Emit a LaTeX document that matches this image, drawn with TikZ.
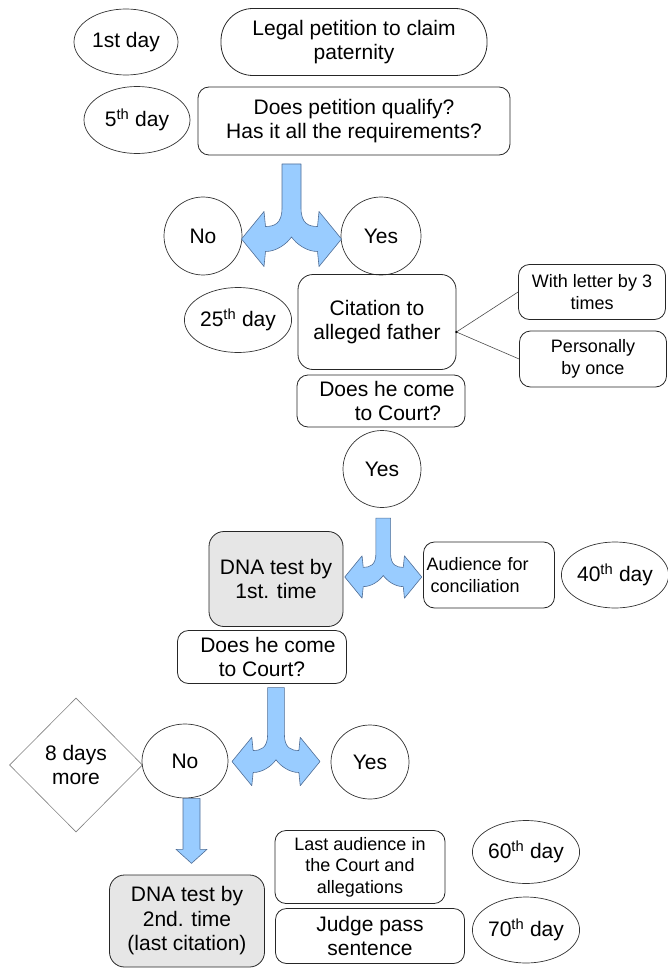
\documentclass[tikz,border=0pt]{standalone}
\usepackage{fontspec}
\setmainfont{Liberation Sans}
\usetikzlibrary{shapes.geometric,calc}

\definecolor{forkblue}{RGB}{153,204,255}
\definecolor{forkedge}{RGB}{80,110,150}
\definecolor{dnagrey}{RGB}{230,230,230}

\newcommand{\bigtext}{\fontsize{21}{24.5}\selectfont}
\newcommand{\smalltext}{\fontsize{18}{21.5}\selectfont}

% blue fork arrow: centre, half span, stem length (in half spans)
\newcommand{\forkarrow}[3]{%
\begin{scope}[shift={#1}, scale=#2]
\filldraw[fork] (-0.19,-#3) -- (0.19,-#3) -- (0.19,-0.62)
  .. controls (0.19,-0.3) and (0.35,-0.25) .. (0.52,-0.25)
  -- (0.55,-0.55) -- (1,0) -- (0.55,0.55) -- (0.52,0.25)
  .. controls (0.3,0.25) and (0.1,0.1) .. (0,-0.04)
  .. controls (-0.1,0.1) and (-0.3,0.25) .. (-0.52,0.25)
  -- (-0.55,0.55) -- (-1,0) -- (-0.55,-0.55) -- (-0.52,-0.25)
  .. controls (-0.35,-0.25) and (-0.19,-0.3) .. (-0.19,-0.62) -- cycle;
\end{scope}}

\begin{document}
\begin{tikzpicture}[
	x=1pt, y=-1pt,
	dayoval/.style={ ellipse, draw=black!80, line width=0.7pt, inner sep=0pt, font=\bigtext },
	answer/.style={ ellipse, draw=black!80, line width=0.7pt, inner sep=0pt, font=\bigtext },
	stepbox/.style={ rectangle, rounded corners=11, draw=black!85, line width=0.8pt, inner sep=3pt, align=center, font=\bigtext },
	sidebox/.style={ stepbox, font=\smalltext },
	dnabox/.style={ stepbox, rounded corners=15, fill=dnagrey },
	waitbox/.style={ diamond, draw=black!50, line width=0.6pt, inner sep=0pt, align=center, font=\bigtext },
	fork/.style={ fill=forkblue, draw=forkedge, line width=0.6pt, line join=round }
]
\useasboundingbox (0,0) rectangle (667,968);

% petition
\node at (126,42) (d1) [dayoval, minimum width=104, minimum height=66] {1st day};
\node at (354,42) (legal) [stepbox, rounded corners=32, minimum width=266, minimum height=67] {Legal petition to claim\\paternity};
\node at (137,120) (d5) [dayoval, minimum width=106, minimum height=67] {5\textsuperscript{th} day};
\node at (354,121) (qualify) [stepbox, minimum width=312, minimum height=68] {Does petition qualify?\\Has it all the requirements?};

\node at (203,236) (no1) [answer, minimum width=78, minimum height=78] {No};
\node at (381,236) (yes1) [answer, minimum width=80, minimum height=78] {Yes};
\forkarrow{($(no1.east)!.5!(yes1.west)+(0,3)$)}{50}{1.5}

% citation
\node at (238,320) (d25) [dayoval, minimum width=103, minimum height=65] {25\textsuperscript{th} day};
\node at (377,322) (cit) [stepbox, rounded corners=15, minimum width=158, minimum height=95] {Citation to\\alleged father};
\node at (592,292) (letter) [sidebox, minimum width=147, minimum height=55] {With letter by 3\\times};
\node at (593,359) (pers) [sidebox, minimum width=147, minimum height=56] {Personally\\by once};
\coordinate (knot) at ([yshift=-10pt]cit.east);
\draw[black!70, line width=0.6pt] (knot) -- (letter.west);
\draw[black!70, line width=0.6pt] (knot) -- (pers.west);
\fill (knot) circle (1.3);
\node at (381,401) (come1) [stepbox, minimum width=168, minimum height=52] {\hspace*{12pt}Does he come\\\hspace*{34pt}to Court?};
\node at (382,469) (yes2) [answer, minimum width=78, minimum height=77] {Yes};

% first DNA test
\node at (276,579) (dna1) [dnabox, minimum width=134, minimum height=95] {DNA test by\\1st. time};
\node at (489,575) (aud) [sidebox, align=left, text width=125, minimum height=66] {Audience for\\\hspace*{4pt}conciliation};
\node at (615,575) (d40) [dayoval, minimum width=104, minimum height=66] {40\textsuperscript{th} day};
\forkarrow{($(dna1.east)!.5!(aud.west)$)}{38.5}{1.53}
\node at (262,657) (come2) [stepbox, minimum width=169, minimum height=53] {\hspace*{12pt}Does he come\\to Court?};

\node at (76,765) (wait) [waitbox, minimum width=133, minimum height=134] {8 days\\more};
\node at (185,761) (no2) [answer, minimum width=86, minimum height=74] {No};
\node at (370,762) (yes3) [answer, minimum width=78, minimum height=74] {Yes};
\forkarrow{($(no2.east)!.5!(yes3.west)+(-3.5,0)$)}{44}{1.68}
\filldraw[fork] ([xshift=6.5pt]no2.south) ++(-8.5,0) -- ++(17,0) -- ++(0,51) -- ++(7,0)
  -- ++(-15.5,14) -- ++(-15.5,-14) -- ++(7,0) -- cycle;

% second DNA test and sentence
\node at (187,921) (dna2) [dnabox, minimum width=155, minimum height=92] {DNA test by\\2nd. time\\(last citation)};
\node at (360,867) (last) [sidebox, minimum width=170, minimum height=73] {Last audience in\\the Court and\\allegations};
\node at (370,936) (judge) [stepbox, minimum width=189, minimum height=55] {Judge pass\\sentence};
\node at (526,852) (d60) [dayoval, minimum width=102, minimum height=63] {60\textsuperscript{th} day};
\node at (526,930) (d70) [dayoval, minimum width=102, minimum height=66] {70\textsuperscript{th} day};

\end{tikzpicture}
\end{document}
